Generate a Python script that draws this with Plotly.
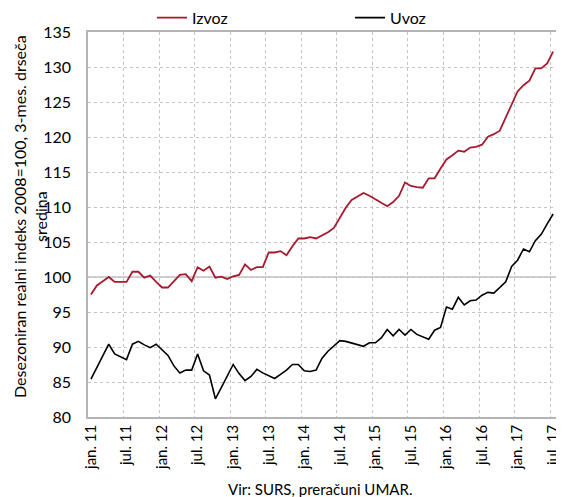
import plotly.graph_objects as go

months_labels = ["jan. 11", "jul. 11", "jan. 12", "jul. 12", "jan. 13", "jul. 13", "jan. 14",
                 "jul. 14", "jan. 15", "jul. 15", "jan. 16", "jul. 16", "jan. 17", "jul. 17"]

izvoz = [97.5, 98.8, 99.4, 100.0, 99.3, 99.3, 99.3, 100.75, 100.75, 99.9, 100.2, 99.3, 98.5, 98.5,
         99.4, 100.3, 100.4, 99.4, 101.4, 100.9, 101.5, 99.9, 100.05, 99.7, 100.1, 100.3, 101.8,
         101.0, 101.4, 101.4, 103.5, 103.5, 103.7, 103.1, 104.4, 105.5, 105.5, 105.7, 105.5, 105.9,
         106.4, 107.0, 108.5, 109.9, 111.0, 111.5, 112.0, 111.6, 111.1, 110.7, 110.1, 110.7, 111.6,
         113.5, 113.0, 112.85, 112.76, 114.1, 114.1, 115.5, 116.8, 117.4, 118.05, 117.9, 118.5,
         118.6, 118.9, 120.05, 120.4, 120.9, 122.8, 124.7, 126.5, 127.4, 128.05, 129.8, 129.8,
         130.5, 132.2]

uvoz = [85.4, 87.0, 88.8, 90.4, 89.0, 88.6, 88.2, 90.4, 90.8, 90.3, 89.9, 90.4, 89.6, 88.8, 87.3,
        86.3, 86.7, 86.7, 89.0, 86.6, 86.0, 82.6, 84.2, 85.8, 87.5, 86.2, 85.2, 85.8, 86.8, 86.3,
        85.9, 85.5, 86.1, 86.7, 87.5, 87.5, 86.6, 86.5, 86.7, 88.4, 89.4, 90.1, 90.9, 90.8, 90.6,
        90.4, 90.1, 90.6, 90.6, 91.3, 92.5, 91.6, 92.5, 91.7, 92.5, 91.8, 91.5, 91.1, 92.4, 92.8,
        95.7, 95.4, 97.1, 96.0, 96.6, 96.7, 97.4, 97.8, 97.7, 98.5, 99.3, 101.5, 102.4, 104.0,
        103.6, 105.2, 106.1, 107.6, 109.0]

x = list(range(len(izvoz)))
tick_pos = [i * 6 for i in range(len(months_labels))]
grid_pos = [p - 0.5 for p in tick_pos]

FONT = "Lato"
GRID = "#c4c4c4"

fig = go.Figure()
fig.add_trace(go.Scatter(x=x, y=izvoz, mode="lines", name="Izvoz",
                         line=dict(color="#A6192E", width=1.8)))
fig.add_trace(go.Scatter(x=x, y=uvoz, mode="lines", name="Uvoz",
                         line=dict(color="#000000", width=1.6)))

fig.add_shape(type="line", xref="paper", yref="y", x0=0, x1=1, y0=100, y1=100,
              line=dict(color="#c0c0c0", width=1.6), layer="below")

# page body has an 8px default margin; figure is sized to fit the 564x497 window
fig.update_layout(
    width=556, height=489,
    margin=dict(l=80, r=2, t=24, b=80, autoexpand=False),
    paper_bgcolor="white", plot_bgcolor="white",
    font=dict(family=FONT, size=15, color="#000000"),
    showlegend=True,
    legend=dict(orientation="h", x=0.135, xanchor="left", y=1.037, yanchor="middle",
                entrywidth=153, entrywidthmode="pixels",
                font=dict(family=FONT, size=16), bgcolor="rgba(0,0,0,0)"),
    xaxis=dict(range=[-0.5, 79.5], tickmode="array", tickvals=tick_pos, ticktext=months_labels,
               tickangle=-90, tickfont=dict(family=FONT, size=15), showgrid=False,
               zeroline=False, showline=True, mirror=True, linecolor="#b4b4b4", linewidth=1.5,
               ticks="", automargin=False,
               minor=dict(tickmode="array", tickvals=grid_pos, showgrid=True, gridcolor=GRID,
                          griddash="dot", gridwidth=1)),
    yaxis=dict(range=[80, 135], tickmode="linear", tick0=80, dtick=5,
               tickfont=dict(family=FONT, size=16), showgrid=True, gridcolor=GRID,
               griddash="dot", gridwidth=1, zeroline=False, showline=True, mirror=True,
               linecolor="#b4b4b4", linewidth=1.5, ticks="", ticklabelstandoff=12,
               automargin=False),
    annotations=[
        dict(text="Desezoniran realni indeks 2008=100, 3-mes. drseča<br>sredina",
             xref="paper", yref="paper", x=-0.122, y=0.52, xanchor="center", yanchor="middle",
             textangle=-90, showarrow=False, font=dict(family=FONT, size=16)),
        dict(text="Vir: SURS, preračuni UMAR.", xref="paper", yref="paper", x=0.49, y=-0.187,
             xanchor="center", yanchor="middle", showarrow=False,
             font=dict(family=FONT, size=15)),
    ],
)

fig.write_html("out.html")
